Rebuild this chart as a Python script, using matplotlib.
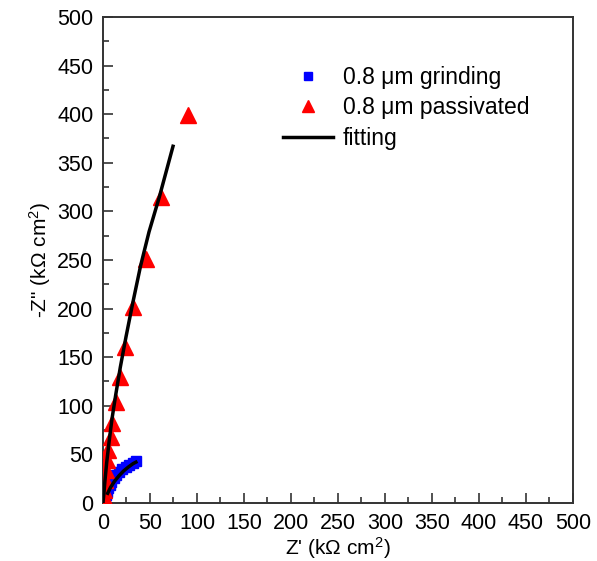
import numpy as np
import matplotlib
matplotlib.use("Agg")
import matplotlib.pyplot as plt
from matplotlib.ticker import MultipleLocator

plt.rcParams['font.family'] = ['Liberation Sans', 'DejaVu Sans']
plt.rcParams['mathtext.fontset'] = 'custom'
plt.rcParams['mathtext.rm'] = 'Liberation Sans'
plt.rcParams['mathtext.it'] = 'Liberation Sans'

# Nyquist data (kOhm cm^2)
grind_re = [0.8, 1.5, 2.3, 3.2, 4.3, 5.6, 7.2, 9.0, 11.2, 13.8, 16.8, 20.2, 24.0, 28.0, 32.0, 35.5]
grind_im = [1.0, 3.0, 5.5, 8.5, 11.5, 15.0, 18.5, 22.0, 25.5, 29.0, 32.0, 35.0, 37.5, 39.5, 41.5, 43.0]

pass_re = [0.5, 1.0, 1.5, 2.0, 2.8, 3.9, 5.7, 8.0, 10.0, 13.5, 18.0, 23.0, 32.0, 46.0, 62.0, 90.0]
pass_im = [2.0, 6.0, 13.0, 24.0, 34.0, 44.0, 54.5, 68.0, 82.0, 104.0, 130.0, 160.0, 202.0, 251.0, 315.0, 399.0]

fit_grind_re = [5.0, 8.0, 12.0, 17.0, 22.0, 27.0, 32.0, 35.0]
fit_grind_im = [10.0, 16.0, 22.0, 28.0, 33.0, 37.0, 40.5, 42.0]

fit_pass_re = [0.0, 1.0, 2.0, 4.0, 6.5, 9.5, 13.5, 18.5, 24.5, 31.5, 40.0, 49.0, 60.0, 74.5]
fit_pass_im = [0.0, 10.0, 22.0, 42.0, 63.0, 86.0, 111.0, 140.0, 171.0, 205.0, 244.0, 279.0, 315.0, 367.0]

fig = plt.figure(figsize=(5.97, 5.61), dpi=100)
ax = fig.add_axes([0.1725, 0.1034, 0.7873, 0.8663])

ax.plot(grind_re, grind_im, 's', color='#0000ff', ms=7, mec='#0000ff',
        label=u'0.8 \u03bcm grinding', zorder=3)
ax.plot(pass_re, pass_im, '^', color='#ff0000', ms=11, mec='#ff0000',
        label=u'0.8 \u03bcm passivated', zorder=3)
ax.plot(fit_pass_re, fit_pass_im, '-', color='black', lw=2.5, label='fitting', zorder=4)
ax.plot(fit_grind_re, fit_grind_im, '-', color='black', lw=2.5, zorder=4)

ax.set_xlim(0, 500)
ax.set_ylim(0, 500)
ax.xaxis.set_major_locator(MultipleLocator(50))
ax.yaxis.set_major_locator(MultipleLocator(50))
ax.xaxis.set_minor_locator(MultipleLocator(25))
ax.yaxis.set_minor_locator(MultipleLocator(25))
ax.tick_params(which='both', direction='in', labelsize=15.5, width=1.2, color='#333333')
ax.tick_params(which='major', length=7, pad=7)
ax.tick_params(which='minor', length=4)
for sp in ax.spines.values():
    sp.set_linewidth(1.4)
    sp.set_color('#333333')

ax.set_xlabel(u"Z' (k\u03a9 cm$^2$)", fontsize=15, labelpad=1)
ax.set_ylabel(u'-Z" (k\u03a9 cm$^2$)', fontsize=15, labelpad=3)

leg = ax.legend(loc='upper left', bbox_to_anchor=(0.383, 0.9), frameon=False,
                fontsize=16.5, handlelength=2.2, handletextpad=0.4, labelspacing=0.33,
                borderpad=0, borderaxespad=0, numpoints=1, markerscale=0.8)

fig.savefig('out.png', dpi=100)
